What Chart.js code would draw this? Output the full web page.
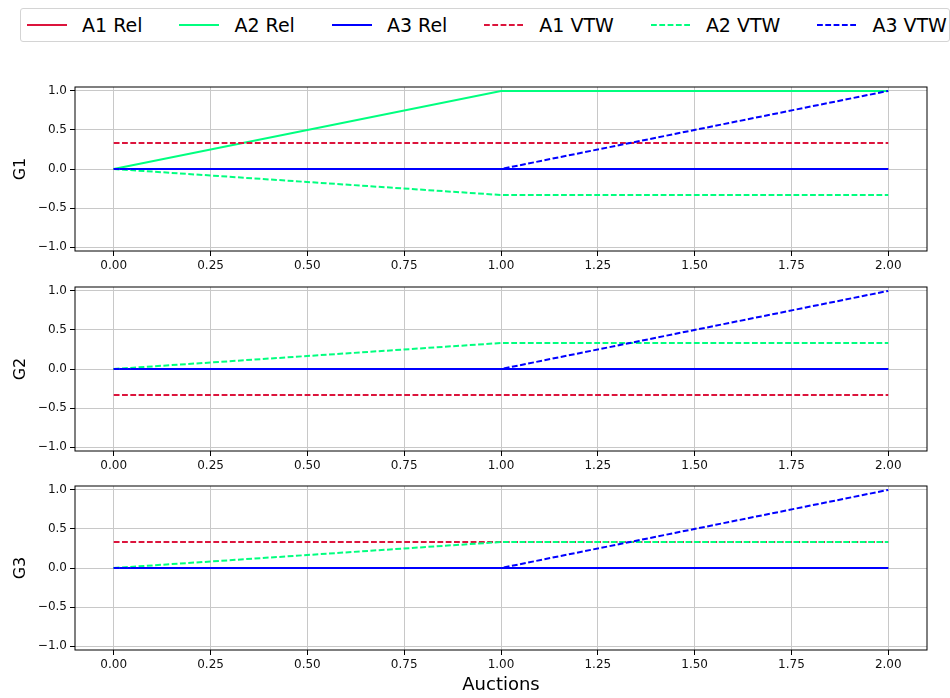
<!DOCTYPE html>
<html>
<head>
  <meta charset="UTF-8">
  <title>Auctions</title>
  <script src="https://cdn.jsdelivr.net/npm/chart.js"></script>
  <style>
    body { margin: 0; width: 950px; height: 698px; position: relative; background: #fff; overflow: hidden;
           font-family: 'DejaVu Sans', sans-serif; color: #000; }
    canvas { position: absolute; left: 0; }
    #legend { position: absolute; left: 20px; top: 8px; width: 930px; height: 34px; box-sizing: border-box;
              border: 1px solid #d4d4d4; border-radius: 3px; display: flex; align-items: center;
              gap: 37px; padding-left: 6px; font-size: 19px; white-space: nowrap; }
    .item { display: flex; align-items: center; gap: 15px; }
  </style>
</head>
<body>
  <div id="legend"></div>
  <canvas id="g1" width="950" height="194" style="top:82px"></canvas>
  <canvas id="g2" width="950" height="194" style="top:282px"></canvas>
  <canvas id="g3" width="950" height="217" style="top:481px"></canvas>

  <script>
    // x values and ticks
    const auctions = [0, 1, 2];
    const xTicks = [0, 0.25, 0.5, 0.75, 1, 1.25, 1.5, 1.75, 2];
    const yTicks = [-1, -0.5, 0, 0.5, 1];

    const seriesNames = ['A1 Rel', 'A2 Rel', 'A3 Rel', 'A1 VTW', 'A2 VTW', 'A3 VTW'];
    const seriesColors = ['#dc143c', '#00ff7f', '#0000ff', '#dc143c', '#00ff7f', '#0000ff'];

    // G1
    const g1A1Rel = [0, 0, 0];
    const g1A2Rel = [0, 1, 1];
    const g1A3Rel = [0, 0, 0];
    const g1A1Vtw = [0.333, 0.333, 0.333];
    const g1A2Vtw = [0, -0.333, -0.333];
    const g1A3Vtw = [0, 0, 1];

    // G2
    const g2A1Rel = [0, 0, 0];
    const g2A2Rel = [0, 0, 0];
    const g2A3Rel = [0, 0, 0];
    const g2A1Vtw = [-0.333, -0.333, -0.333];
    const g2A2Vtw = [0, 0.333, 0.333];
    const g2A3Vtw = [0, 0, 1];

    // G3
    const g3A1Rel = [0, 0, 0];
    const g3A2Rel = [0, 0, 0];
    const g3A3Rel = [0, 0, 0];
    const g3A1Vtw = [0.333, 0.333, 0.333];
    const g3A2Vtw = [0, 0.333, 0.333];
    const g3A3Vtw = [0, 0, 1];

    Chart.defaults.font.family = "'DejaVu Sans', sans-serif";

    // legend (shared, html)
    const legend = document.getElementById('legend');
    seriesNames.forEach((name, i) => {
      const dash = i >= 3 ? 'stroke-dasharray="5.8 2.5"' : '';
      legend.insertAdjacentHTML('beforeend',
        '<div class="item"><svg width="40" height="4"><line x1="0" y1="2" x2="40" y2="2" stroke="' +
        seriesColors[i] + '" stroke-width="2" ' + dash + '/></svg><span>' + name + '</span></div>');
    });

    // box around plot area like matplotlib spines
    const frame = {
      id: 'frame',
      afterDatasetsDraw(chart) {
        const { ctx, chartArea: a } = chart;
        ctx.save();
        ctx.strokeStyle = '#000';
        ctx.lineWidth = 1;
        ctx.strokeRect(a.left, a.top, a.right - a.left, a.bottom - a.top);
        ctx.restore();
      }
    };

    const fmtY = v => (v < 0 ? '\u2212' : '') + Math.abs(v).toFixed(1);

    function makeChart(id, label, values, last) {
      new Chart(document.getElementById(id), {
        type: 'line',
        data: {
          datasets: values.map((vals, i) => ({
            label: seriesNames[i],
            data: auctions.map((x, j) => ({ x: x, y: vals[j] })),
            borderColor: seriesColors[i],
            backgroundColor: seriesColors[i],
            borderWidth: 2,
            borderDash: i >= 3 ? [5.8, 2.5] : [],
            pointRadius: 0,
            tension: 0,
            order: values.length - i
          }))
        },
        options: {
          responsive: false,
          animation: false,
          layout: { padding: { top: 5, right: 23, left: 0, bottom: 0 } },
          plugins: { legend: { display: false }, tooltip: { enabled: false } },
          scales: {
            x: {
              type: 'linear',
              min: -0.1,
              max: 2.1,
              afterBuildTicks: s => { s.ticks = xTicks.map(v => ({ value: v })); },
              afterFit: s => {
                s.height = last ? 48 : 25;
                s.paddingLeft = 0; s.paddingRight = 0;
              },
              border: { display: false },
              grid: { color: '#c8c8c8', lineWidth: 1, tickColor: '#000', tickLength: 5 },
              ticks: { autoSkip: false, maxRotation: 0, padding: 3, color: '#111',
                       font: { size: 12 }, callback: v => v.toFixed(2) },
              title: { display: last, text: 'Auctions', color: '#000', font: { size: 18 },
                       padding: { top: 0, bottom: 2 } }
            },
            y: {
              min: -1.05,
              max: 1.05,
              afterBuildTicks: s => { s.ticks = yTicks.map(v => ({ value: v })); },
              afterFit: s => {
                s.width = 75;
                s.paddingTop = 0; s.paddingBottom = 0;
              },
              border: { display: false },
              grid: { color: '#c8c8c8', lineWidth: 1, tickColor: '#000', tickLength: 5 },
              ticks: { padding: 3, color: '#111', font: { size: 12 }, callback: fmtY },
              title: { display: true, text: label, color: '#000', font: { size: 16 },
                       padding: { top: 11, bottom: 0 } }
            }
          }
        },
        plugins: [frame]
      });
    }

    makeChart('g1', 'G1', [g1A1Rel, g1A2Rel, g1A3Rel, g1A1Vtw, g1A2Vtw, g1A3Vtw], false);
    makeChart('g2', 'G2', [g2A1Rel, g2A2Rel, g2A3Rel, g2A1Vtw, g2A2Vtw, g2A3Vtw], false);
    makeChart('g3', 'G3', [g3A1Rel, g3A2Rel, g3A3Rel, g3A1Vtw, g3A2Vtw, g3A3Vtw], true);
  </script>
</body>
</html>
